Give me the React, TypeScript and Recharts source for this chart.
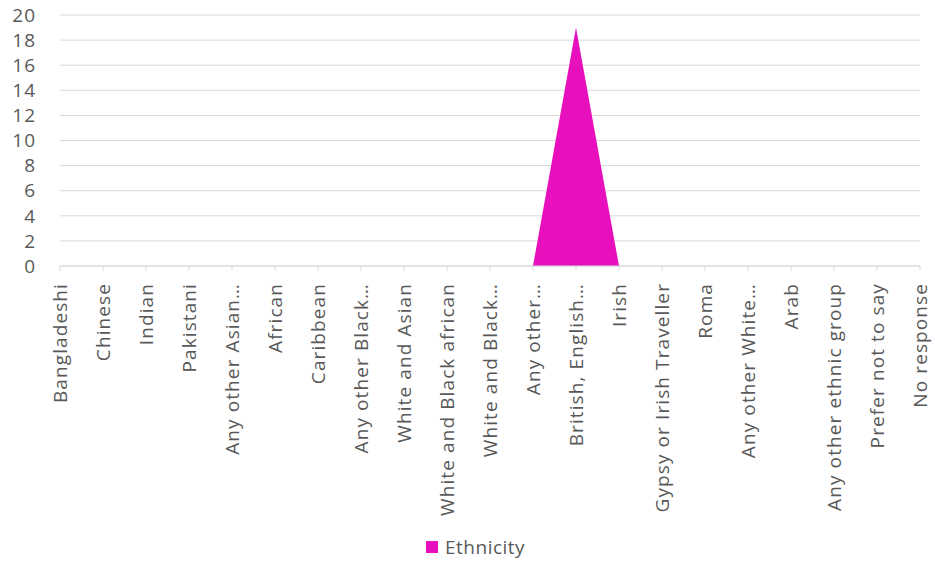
import { AreaChart, Area, XAxis, YAxis, CartesianGrid, Legend } from 'recharts';

const CATEGORIES = [
  'Bangladeshi',
  'Chinese',
  'Indian',
  'Pakistani',
  'Any other Asian…',
  'African',
  'Caribbean',
  'Any other Black…',
  'White and Asian',
  'White and Black african',
  'White and Black…',
  'Any other…',
  'British, English…',
  'Irish',
  'Gypsy or Irish Traveller',
  'Roma',
  'Any other White…',
  'Arab',
  'Any other ethnic group',
  'Prefer not to say',
  'No response',
];

const ETHNICITY = [0, 0, 0, 0, 0, 0, 0, 0, 0, 0, 0, 0, 19, 0, 0, 0, 0, 0, 0, 0, 0];

const Y_TICKS = [0, 2, 4, 6, 8, 10, 12, 14, 16, 18, 20];

const FONT = '"Open Sans", sans-serif';
const TEXT_COLOR = '#595959';
const FILL = '#e80fbd';

const data = CATEGORIES.map((name, i) => ({ name, Ethnicity: ETHNICITY[i] }));

const RotatedTick = (props: any) => {
  const { x, y, payload } = props;
  return (
    <text
      transform={`translate(${x},${y}) rotate(-90)`}
      textAnchor="end"
      dominantBaseline="central"
      fill={TEXT_COLOR}
      fontSize={19}
      letterSpacing={1.1}
      fontFamily={FONT}
    >
      {payload.value}
    </text>
  );
};

const LegendContent = (props: any) => {
  const items = props.payload || [];
  return (
    <div style={{ display: 'flex', alignItems: 'center', justifyContent: 'flex-start' }}>
      {items.map((item: any) => (
        <div key={item.value} style={{ display: 'flex', alignItems: 'center' }}>
          <span style={{ width: 12, height: 12, background: FILL, marginRight: 7, display: 'inline-block' }} />
          <span style={{ color: TEXT_COLOR, fontFamily: FONT, fontSize: 19, letterSpacing: 0.5 }}>{item.value}</span>
        </div>
      ))}
    </div>
  );
};

export default function App() {
  return (
    <div style={{ position: 'absolute', left: 0, top: 0, background: '#fff' }}>
      <AreaChart
        width={935}
        height={562}
        data={data}
        margin={{ top: 15, right: 15, bottom: 2, left: 0 }}
      >
        <CartesianGrid vertical={false} stroke="#d9d9d9" strokeWidth={1} />
        <XAxis
          dataKey="name"
          interval={0}
          tick={<RotatedTick />}
          tickLine={{ stroke: '#d9d9d9' }}
          tickSize={5}
          tickMargin={12}
          axisLine={{ stroke: '#d9d9d9' }}
          height={268}
        />
        <YAxis
          domain={[0, 20]}
          ticks={Y_TICKS}
          interval={0}
          width={60}
          axisLine={false}
          tickLine={false}
          tickMargin={18}
          tick={{ fill: TEXT_COLOR, fontSize: 19, fontFamily: FONT, letterSpacing: 1 }}
        />
        <Legend
          verticalAlign="bottom"
          content={<LegendContent />}
          wrapperStyle={{ left: 426, width: 110 }}
        />
        <Area
          type="linear"
          dataKey="Ethnicity"
          stroke="none"
          fill={FILL}
          fillOpacity={1}
          isAnimationActive={false}
        />
      </AreaChart>
    </div>
  );
}
